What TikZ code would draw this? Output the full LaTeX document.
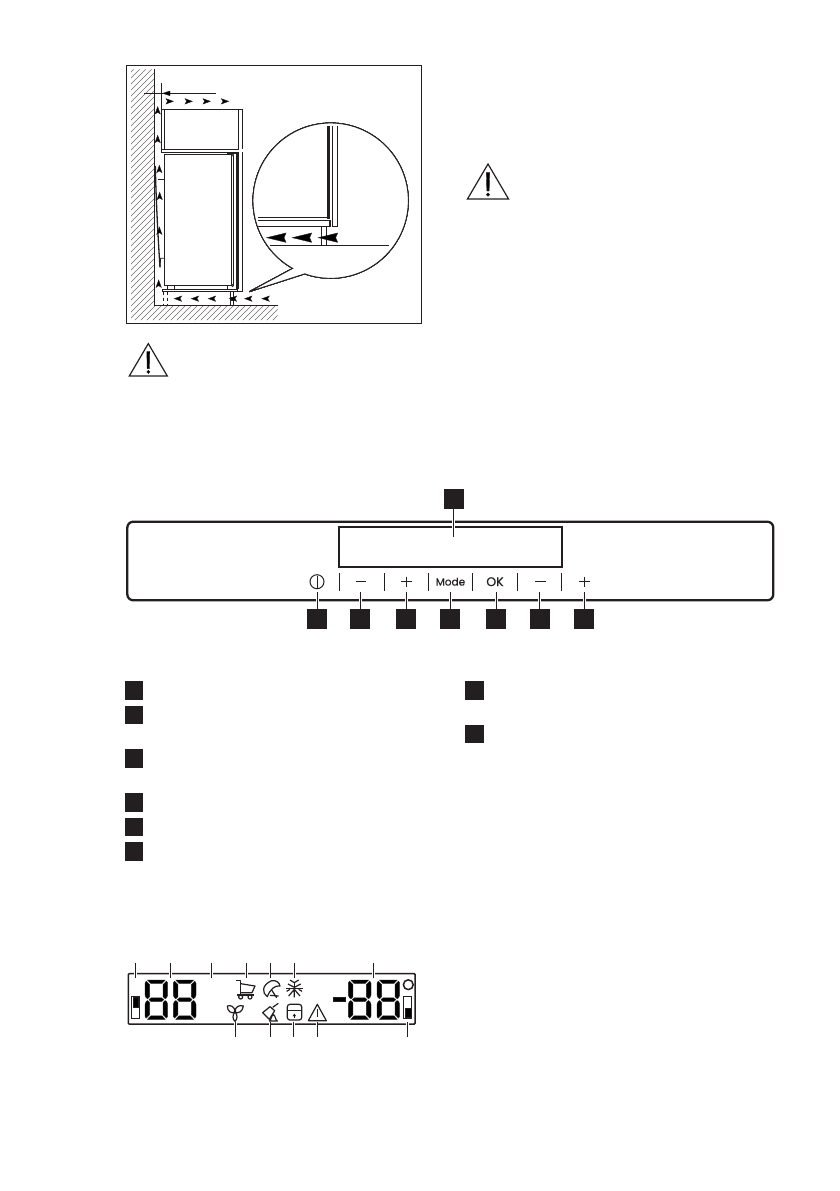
\documentclass[tikz,border=0pt]{standalone}
\usepackage{fontspec}
\setmainfont{Poppins}[FakeBold=0.35]
\definecolor{ink}{HTML}{231F20}
\tikzset{
  ink/.style={draw=ink},
  keysq/.style={fill=ink,inner sep=0pt,minimum size=20pt,outer sep=0pt},
  listsq/.style={fill=ink,inner sep=0pt,minimum width=18pt,minimum height=18.6pt,outer sep=0pt},
  leader/.style={draw=ink,line width=1pt},
  halo/.style={draw=white,line width=3pt},
  zoomA/.style={shift={(120,60)},x=0.33333pt,y=-0.33333pt},
  zoomB/.style={shift={(120,950)},x=0.33333pt,y=-0.33333pt},
  zoomC/.style={shift={(260,950)},x=0.33333pt,y=-0.33333pt},
  thinl/.style={draw=ink,line width=0.8pt},
  midl/.style={draw=ink,line width=1.1pt},
  icon/.style={draw=ink,line width=1.2pt,line join=round},
  sep/.style={draw=ink,line width=0.9pt},
  panelsym/.style={draw=ink,line width=1pt},
  label/.style={text=ink,font=\fontsize{10.5}{12}\selectfont,inner sep=0pt}
}
\newcommand\airtip[3]{\fill[ink,shift={(#1,#2)},rotate=#3] (0,0)--(-22,-8)--(-17,0)--(-22,8)--cycle;}
\newcommand\bigtip[2]{\fill[ink,shift={(#1,#2)}] (0,0)--(58,-14)--(52,0)--(58,14)--cycle;}
\newcommand\warntri[3]{\begin{scope}[shift={(#1,#2)},scale=#3]
  \draw[ink,line width=1.2pt,line join=miter] (-19,32.4)--(0,0)--(19,32.4)--cycle;
  \fill[ink] (-1.5,8)--(1.5,8)--(1.1,25)--(-1.1,25)--cycle;
  \fill[ink] (0,28.3) circle (1.6);
\end{scope}}
\newcommand\sevenseg[2]{\begin{scope}[shift={(#1,#2)}]
  \fill[ink] (2.5,0)--(20.2,0)--(17,3.4)--(5.7,3.4)--cycle;
  \fill[ink] (2.5,39.3)--(20.2,39.3)--(17,35.9)--(5.7,35.9)--cycle;
  \fill[ink] (1.2,1.2)--(4.6,4.6)--(4.6,16.8)--(2.6,18.8)--(1,17.5)--(0,15)--(0,3)--cycle;
  \fill[ink] (21.5,1.2)--(18.1,4.6)--(18.1,16.8)--(20.1,18.8)--(21.7,17.5)--(22.7,15)--(22.7,3)--cycle;
  \fill[ink] (1.2,38.1)--(4.6,34.7)--(4.6,22.5)--(2.6,20.5)--(1,21.8)--(0,24.3)--(0,36.3)--cycle;
  \fill[ink] (21.5,38.1)--(18.1,34.7)--(18.1,22.5)--(20.1,20.5)--(21.7,21.8)--(22.7,24.3)--(22.7,36.3)--cycle;
  \fill[ink] (4,19.65)--(6,17.8)--(16.7,17.8)--(18.7,19.65)--(16.7,21.5)--(6,21.5)--cycle;
\end{scope}}
\begin{document}
\begin{tikzpicture}[x=1pt,y=-1pt]
\useasboundingbox (0,0) rectangle (839,1191);
\fill[white] (0,0) rectangle (839,1191);

% ---------- installation figure
\begin{scope}[zoomA]
  \draw[ink,line width=1pt] (18,16) rectangle (905,790);
  % hatching
  \begin{scope}
    \clip (33,28)--(103,28)--(103,737)--(473,737)--(473,780)--(33,780)--cycle;
    \foreach \c in {-770,-752,...,480}
      \draw[ink!65,line width=0.6pt] (\c,785)--(\c+780,5);
  \end{scope}
  \draw[midl] (103,28)--(103,737)--(473,737);
  % dimension
  \draw[thinl] (124,68)--(124,148);
  \draw[thinl] (72,100)--(288,100);
  \fill[ink] (128,100)--(150,93)--(150,107)--cycle;
  \foreach \x in {160,217,271,326} \airtip{\x}{124}{0}
  % top cabinet
  \draw[midl] (124,277)--(124,148)--(367,148)--(367,268);
  \draw[midl] (133,148)--(133,268);
  \draw[midl] (356,148)--(356,268);
  \draw[midl] (124,268)--(356,268);
  \draw[midl] (124,277)--(356,277);
  \draw[midl] (367,277)--(367,695)--(353,695);
  \draw[midl] (356,277)--(356,688);
  % fridge body
  \draw[midl] (133,283)--(334,283);
  \draw[midl] (133,283)--(133,677)--(334,677);
  \draw[ink,line width=1.4pt] (322,281)--(356,281);
  \draw[midl] (334,283)--(334,677);
  \draw[midl] (341,283)--(341,677);
  \draw[ink,line width=1.6pt] (351,283)--(351,688);
  \fill[white,draw=ink,line width=0.6pt] (337.5,285) circle (3);
  \fill[white,draw=ink,line width=0.6pt] (337.5,677) circle (3);
  % base
  \draw[midl] (127,688) rectangle (353,695);
  \draw[thinl] (143,677)--(143,688) (163,677)--(163,688) (322,677)--(322,688);
  \draw[thinl,dashed] (130,695)--(130,737);
  \draw[thinl,dashed] (142,695)--(142,737);
  \draw[thinl] (331,695)--(331,737) (341,695)--(341,737);
  \fill[ink] (332,711) rectangle (341,721);
  % condenser
  \draw[ink,line width=1.3pt] (106,318) .. controls (108,420) and (114,530) .. (120,622);
  \draw[thinl] (113,358)--(133,358);
  \draw[thinl] (120,622)--(122,595)--(133,595);
  % air arrows up
  \airtip{113}{140}{90}
  \airtip{113}{226}{90}
  \airtip{118}{316}{90}
  \airtip{119}{397}{90}
  \airtip{118}{501}{90}
  \airtip{116}{660}{90}
  % air arrows left
  \foreach \x in {163,214,265,328,374,426} \airtip{\x}{716}{180}
  % magnifier
  \draw[ink,line width=0.9pt,fill=white] plot[domain=119.3:469.5,samples=140] ({632+233*cos(\x)},{422+233*sin(\x)}) -- (388,695) -- cycle;
  \draw[ink,line width=3.2pt] (625,198)--(625,476);
  \draw[midl] (637,198)--(637,500)--(653,500)--(653,198);
  \draw[midl] (415,472)--(620,472);
  \draw[midl] (415,482)--(630,482)--(630,499)--(415,499);
  \draw[midl] (604,500)--(604,556) (619,500)--(619,556);
  \draw[midl] (450,556)--(808,556);
  \bigtip{440}{533}
  \bigtip{517}{533}
  \bigtip{595}{533}
\end{scope}
\warntri{148.3}{343.6}{1}
\warntri{488}{164}{1.08}

% ---------- control panel
\draw[ink,line width=2.3pt,rounded corners=6pt] (127.3,521.7) rectangle (773.3,600.3);
\draw[ink,line width=1.7pt] (338.7,526.7) rectangle (562.3,567);
\node[keysq] (k1) at (453.7,499) {};
\coordinate (k1end) at (453.7,537.3);
\foreach \n/\x in {k2/317,k3/360,k4/406,k5/450,k6/496,k7/539.5,k8/584.3}{
  \node[keysq] (\n) at (\x,619) {};
  \coordinate (\n end) at (\x,592);
}
\draw[halo] (k1.south)--(k1end);
\draw[leader] (k1.south)--(k1end);
\foreach \n in {k2,k3,k4,k5,k6,k7,k8}{
  \draw[halo] (\n.north)--(\n end);
  \draw[leader] (\n.north)--(\n end);
}
\foreach \x in {339.3,384.3,428.3,472.3,517.3,561.3}
  \draw[sep] (\x,573.3)--(\x,590.7);
\draw[panelsym] (317,581.7) circle (7);
\draw[panelsym] (317,575.5)--(317,588);
\draw[panelsym] (355.5,581.7)--(366,581.7);
\draw[panelsym] (401,581.7)--(411.5,581.7) (406.3,576.5)--(406.3,587);
\node[label] (modetxt) at (450.5,581.7) {Mode};
\node[label,font=\fontsize{12.5}{14}\selectfont] (oktxt) at (495,581.7) {OK};
\draw[panelsym] (535,581.7)--(545.5,581.7);
\draw[panelsym] (579,581.7)--(589.5,581.7) (584.3,576.5)--(584.3,587);

% ---------- legend squares
\foreach \n/\y in {l1/690.5,l2/715,l3/758.5,l4/802.5,l5/827,l6/851.5}
  \node[listsq] (\n) at (134,\y) {};
\foreach \n/\y in {r1/690.5,r2/734}
  \node[listsq,minimum width=19pt] (\n) at (474.5,\y) {};

% ---------- LCD
\draw[ink,line width=1.5pt,rounded corners=0.8pt] (128.3,973.7) rectangle (415,1024);
\foreach \n/\x in {t1/135.3,t2/170.3,t3/211.3,t4/246.3,t5/270,t6/294.3,t7/373.3}{
  \coordinate (\n a) at (\x,962.7);
  \coordinate (\n b) at (\x,978);
  \draw[halo,line width=2.4pt] (\x,970)--(\n b);
  \draw[thinl] (\n a)--(\n b);
}
\foreach \n/\x in {b1/235.3,b2/270,b3/293.3,b4/317,b5/407.3}{
  \coordinate (\n a) at (\x,1021.5);
  \coordinate (\n b) at (\x,1036.7);
  \draw[halo,line width=2.4pt] (\n a)--(\x,1028);
  \draw[thinl] (\n a)--(\n b);
}
% bars
\draw[ink,line width=0.7pt] (131.3,996) rectangle (139.3,1018.3);
\fill[ink] (132.7,997.3) rectangle (138.3,1007.3);
\draw[ink,line width=0.7pt] (403.7,996) rectangle (411.7,1018.3);
\fill[ink] (405.3,1008.3) rectangle (410.7,1017.5);
% digits
\sevenseg{145}{980}
\sevenseg{173.3}{980}
\sevenseg{348.3}{980}
\sevenseg{377}{980}
\fill[ink] (333.3,997.3) rectangle (344.7,1001.3);
\draw[ink,line width=1.5pt] (408.3,984.7) circle (4.9);
% cart + fan
\begin{scope}[zoomB]
  \draw[icon] (349,92)--(362,92)--(362,135)--(352,135) (352,135)--(401,135);
  \draw[icon] (362,101)--(405,108)--(396,128)--(362,128);
  \draw[icon] (362,141) circle (6) (390,141) circle (6);
  \draw[icon] (345,186) .. controls (335,192) and (322,185) .. (322,168) .. controls (332,164) and (345,170) .. (345,186);
  \draw[icon] (345,186) .. controls (355,192) and (368,185) .. (370,168) .. controls (358,164) and (345,170) .. (345,186);
  \draw[icon] (345,186) .. controls (354,195) and (352,208) .. (345,214) .. controls (338,208) and (336,195) .. (345,186);
\end{scope}
% remaining icons
\begin{scope}[zoomC]
  % dome icon
  \draw[icon] (22,140) .. controls (6,130) and (4,105) .. (35,92) .. controls (48,90) and (58,97) .. (60,108) .. controls (45,105) and (30,118) .. cycle;
  \draw[icon] (35,120)--(50,143) (30,136)--(56,138);
  % snowflake
  \draw[icon] (78,115)--(128,115) (103,98)--(103,113);
  \draw[icon] (90,90)--(103,98)--(116,90) (84,102)--(103,112)--(122,102);
  \draw[icon] (86,138)--(103,118)--(120,138) (103,118)--(103,142) (80,124)--(90,118) (126,124)--(116,118);
  % brush / bell
  \draw[icon] (55,160)--(38,172);
  \draw[icon] (30,170)--(44,182)--(28,208)--(8,188)--cycle;
  \draw[icon,fill=white] (28,213) .. controls (34,212) and (33,196) .. (40,194) .. controls (47,196) and (46,212) .. (52,213) -- cycle;
  % lock
  \draw[icon,rounded corners=2.5pt] (82,163) rectangle (125,210);
  \draw[icon] (82,182)--(125,182);
  \fill[ink] (103,192)--(107,198)--(99,198)--cycle;
  \draw[icon] (103,198)--(103,204);
  % warning
  \draw[icon,line width=1.2pt] (145,212)--(172,163)--(199,212)--cycle;
  \draw[icon] (172,178)--(172,200);
\end{scope}
\end{tikzpicture}
\end{document}
